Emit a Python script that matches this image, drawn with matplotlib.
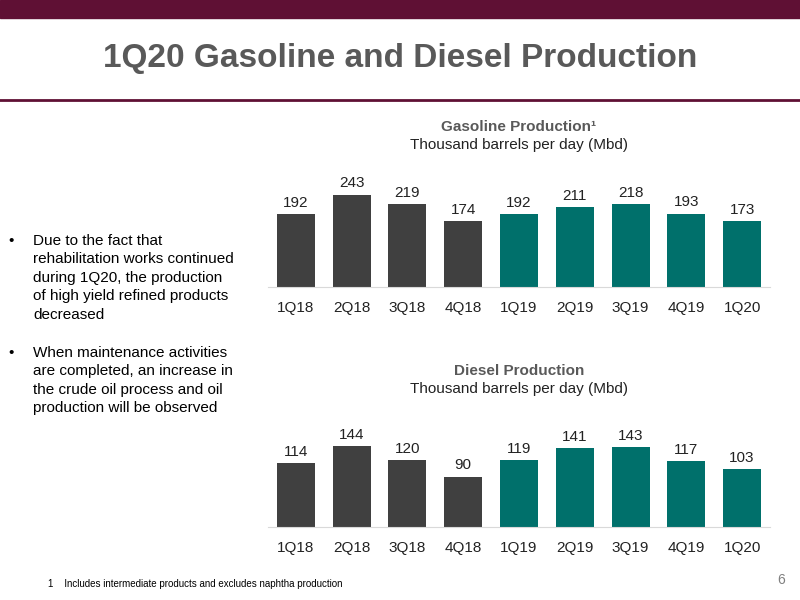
import matplotlib.pyplot as plt
from matplotlib.patches import Rectangle
from matplotlib.lines import Line2D

quarters = ['1Q18', '2Q18', '3Q18', '4Q18', '1Q19', '2Q19', '3Q19', '4Q19', '1Q20']
gasoline = [192, 243, 219, 174, 192, 211, 218, 193, 173]
diesel = [114, 144, 120, 90, 119, 141, 143, 117, 103]

maroon = '#5f1034'
gray = '#404040'
teal = '#00706b'
colors = [gray] * 4 + [teal] * 5

plt.rcParams['font.family'] = ['Liberation Sans', 'DejaVu Sans']
fig = plt.figure(figsize=(8, 6), dpi=100)
fig.patches.append(Rectangle((0, 1 - 18 / 600), 1, 18 / 600, transform=fig.transFigure, color=maroon))
fig.lines.append(Line2D([0, 1], [1 - 100 / 600] * 2, transform=fig.transFigure, color=maroon, lw=2))
fig.text(0.5, 1 - 58 / 600, '1Q20 Gasoline and Diesel Production', ha='center', va='center',
         fontsize=24, fontweight='bold', color='#595959')


def bar_panel(rect, vals, ymax):
    ax = fig.add_axes(rect)
    x = range(len(vals))
    ax.bar(x, vals, width=0.68, color=colors)
    for i, v in enumerate(vals):
        ax.text(i, v + ymax * 0.04, str(v), ha='center', va='bottom', fontsize=11, color='#222222')
    ax.set_xlim(-0.5, 8.5)
    ax.set_ylim(0, ymax)
    ax.set_xticks(list(x))
    ax.set_xticklabels(quarters, fontsize=11, color='#222222')
    ax.tick_params(axis='x', length=0, pad=10)
    ax.set_yticks([])
    for s in ['top', 'right', 'left']:
        ax.spines[s].set_visible(False)
    ax.spines['bottom'].set_color('#d9d9d9')
    return ax


bar_panel([268 / 800, 1 - 287 / 600, 502 / 800, 113.6 / 600], gasoline, 300)
bar_panel([268 / 800, 1 - 527 / 600, 502 / 800, 101 / 600], diesel, 180)

fig.text(519 / 800, 1 - 127 / 600, 'Gasoline Production¹', ha='center', va='center',
         fontsize=11, fontweight='bold', color='#595959')
fig.text(519 / 800, 1 - 145 / 600, 'Thousand barrels per day (Mbd)', ha='center', va='center',
         fontsize=11, color='#222222')
fig.text(519 / 800, 1 - 371 / 600, 'Diesel Production', ha='center', va='center',
         fontsize=11, fontweight='bold', color='#595959')
fig.text(519 / 800, 1 - 389 / 600, 'Thousand barrels per day (Mbd)', ha='center', va='center',
         fontsize=11, color='#222222')

fig.text(8 / 800, 1 - 234 / 600, '•', fontsize=11, va='top')
fig.text(33 / 800, 1 - 234 / 600,
         'Due to the fact that\nrehabilitation works continued\nduring 1Q20, the production\n'
         'of high yield refined products\ndecreased', fontsize=11, va='top', linespacing=1.4)
fig.text(8 / 800, 1 - 346 / 600, '•', fontsize=11, va='top')
fig.text(33 / 800, 1 - 346 / 600,
         'When maintenance activities\nare completed, an increase in\nthe crude oil process and oil\n'
         'production will be observed', fontsize=11, va='top', linespacing=1.4)

fig.text(48 / 800, 1 - 584 / 600, '1    Includes intermediate products and excludes naphtha production',
         fontsize=7, va='center')
fig.text(785 / 800, 1 - 580 / 600, '6', fontsize=10, color='#808080', ha='right', va='center')

fig.savefig('out.png', dpi=100)
